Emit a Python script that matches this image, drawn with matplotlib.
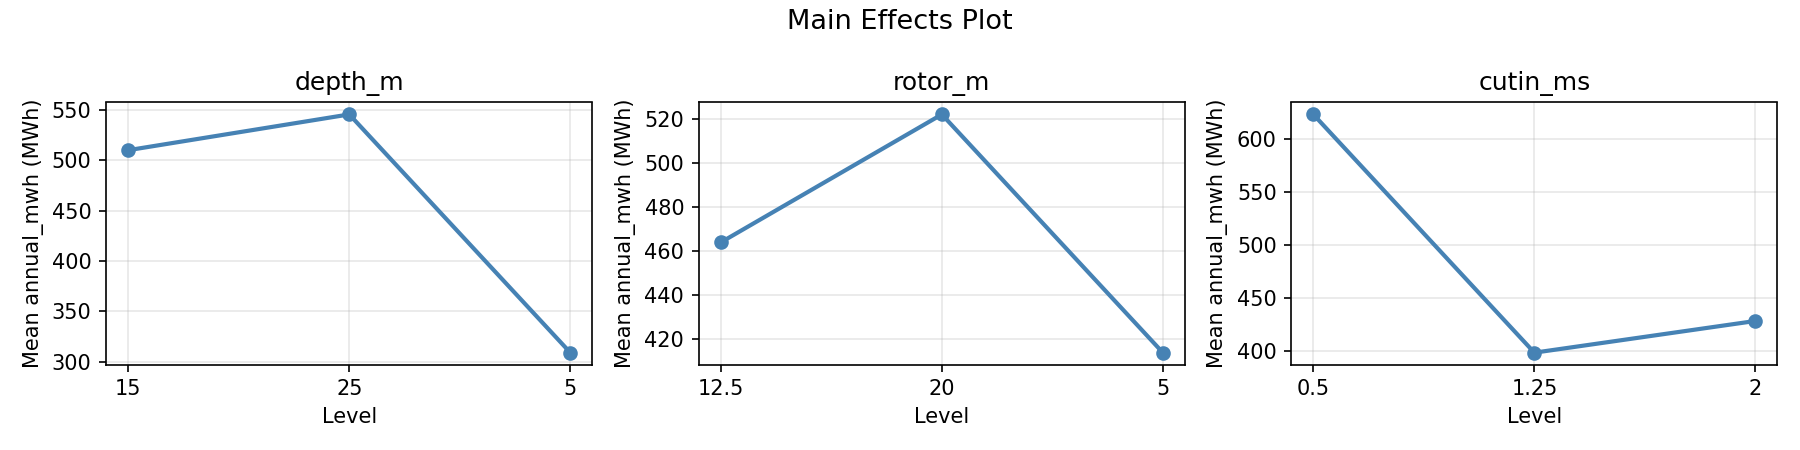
import matplotlib
matplotlib.use("Agg")
import matplotlib.pyplot as plt

factors = ["depth_m", "rotor_m", "cutin_ms"]
depth_levels = ["15", "25", "5"]
depth_means = [510, 545.5, 309]
rotor_levels = ["12.5", "20", "5"]
rotor_means = [464, 522, 414]
cutin_levels = ["0.5", "1.25", "2"]
cutin_means = [623.5, 398, 428]

levels = [depth_levels, rotor_levels, cutin_levels]
means = [depth_means, rotor_means, cutin_means]

fig, axes = plt.subplots(1, 3, figsize=(12, 3), dpi=150)
for ax, name, lv, mv in zip(axes, factors, levels, means):
    ax.plot(lv, mv, marker="o", color="steelblue", linewidth=2)
    ax.set_title(name)
    ax.set_xlabel("Level")
    ax.set_ylabel("Mean annual_mwh (MWh)")
    ax.grid(True, alpha=0.3)

fig.suptitle("Main Effects Plot", fontsize=13)
fig.tight_layout()
fig.savefig("out.png")
